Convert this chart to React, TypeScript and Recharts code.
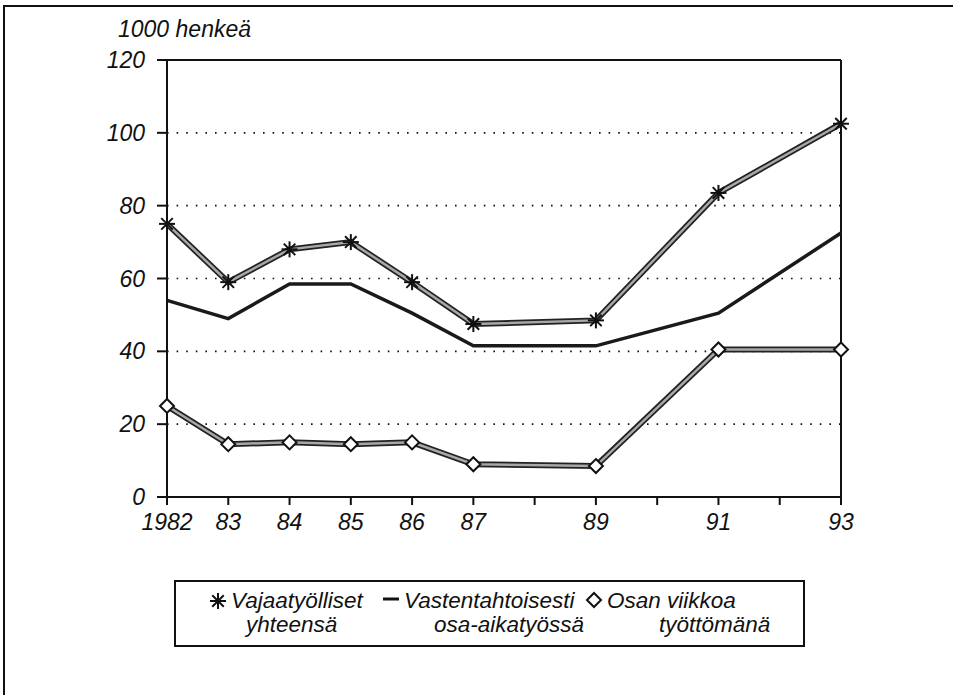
import React from "react";
import { LineChart, Line, XAxis, YAxis, CartesianGrid, ReferenceLine, Legend } from "recharts";

const years = [1982, 1983, 1984, 1985, 1986, 1987, 1989, 1991, 1993];
const vajaatyolliset = [75, 59, 68, 70, 59, 47.5, 48.5, 83.5, 102.5];
const vastentahtoisesti = [54, 49, 58.5, 58.5, 50.5, 41.5, 41.5, 50.5, 72.5];
const osanViikkoa = [25, 14.5, 15, 14.5, 15, 9, 8.5, 40.5, 40.5];

const xTicks = [1982, 1983, 1984, 1985, 1986, 1987, 1988, 1989, 1990, 1991, 1992, 1993];
const xLabels: Record<number, string> = {
  1982: "1982", 1983: "83", 1984: "84", 1985: "85", 1986: "86",
  1987: "87", 1989: "89", 1991: "91", 1993: "93",
};
const yTicks = [0, 20, 40, 60, 80, 100, 120];

const legendItems = [
  { key: "vajaa", first: "Vajaatyölliset", second: "yhteensä", indent: 15 },
  { key: "vasten", first: "Vastentahtoisesti", second: "osa-aikatyössä", indent: 30 },
  { key: "osan", first: "Osan viikkoa", second: "työttömänä", indent: 52 },
];

const data = years.map((year, i) => ({
  year,
  vajaa: vajaatyolliset[i],
  vasten: vastentahtoisesti[i],
  osan: osanViikkoa[i],
}));

const FONT = '"Liberation Sans", Arial, sans-serif';

const StarDot = (props: any) => {
  const { cx, cy } = props;
  if (cx == null || cy == null) return null;
  const r = 8;
  const d = r * 0.72;
  return (
    <g stroke="#111" strokeWidth={2}>
      <line x1={cx - r} y1={cy} x2={cx + r} y2={cy} />
      <line x1={cx} y1={cy - r} x2={cx} y2={cy + r} />
      <line x1={cx - d} y1={cy - d} x2={cx + d} y2={cy + d} />
      <line x1={cx - d} y1={cy + d} x2={cx + d} y2={cy - d} />
    </g>
  );
};

const DiamondDot = (props: any) => {
  const { cx, cy } = props;
  if (cx == null || cy == null) return null;
  const r = 7;
  return (
    <polygon
      points={`${cx},${cy - r} ${cx + r},${cy} ${cx},${cy + r} ${cx - r},${cy}`}
      fill="#fff"
      stroke="#111"
      strokeWidth={2}
    />
  );
};

const LegendIcon = ({ kind }: { kind: string }) => (
  <svg width={22} height={22} style={{ position: "absolute", left: 0, top: 1 }}>
    {kind === "vajaa" && <StarDot cx={11} cy={11} />}
    {kind === "vasten" && <line x1={3} y1={9} x2={19} y2={9} stroke="#111" strokeWidth={3} />}
    {kind === "osan" && <DiamondDot cx={11} cy={10} />}
  </svg>
);

const iconLeft = [31, 204, 407];

const renderLegend = () => (
  <div
    style={{
      position: "relative",
      boxSizing: "border-box",
      width: 631,
      height: 67,
      border: "2px solid #111",
      fontFamily: FONT,
      fontStyle: "italic",
      fontSize: 22.5,
      lineHeight: "24px",
      color: "#111",
    }}
  >
    {legendItems.map((item, i) => (
      <div key={item.key} style={{ position: "absolute", left: iconLeft[i], top: 7, paddingLeft: 24, whiteSpace: "nowrap" }}>
        <LegendIcon kind={item.key} />
        <div>{item.first}</div>
        <div style={{ paddingLeft: item.indent }}>{item.second}</div>
      </div>
    ))}
  </div>
);

const UnitLabel = () => (
  <text x={118} y={37} fontFamily={FONT} fontStyle="italic" fontSize={23} fill="#111">
    1000 henkeä
  </text>
);

export default function App() {
  const tickStyle = { fontFamily: FONT, fontStyle: "italic", fontSize: 23, fill: "#111" };
  return (
    <div style={{ position: "absolute", left: 0, top: 0, width: 953, height: 695, background: "#fff" }}>
      <div
        style={{
          position: "absolute",
          left: 3,
          top: 5,
          width: 950,
          height: 690,
          borderTop: "2px solid #111",
          borderLeft: "2px solid #111",
        }}
      />
      <LineChart width={953} height={695} data={data} margin={{ top: 60, right: 112, bottom: 148, left: 0 }}>
        <CartesianGrid vertical={false} stroke="#111" strokeWidth={1.6} strokeDasharray="1.6 8" />
        <XAxis
          dataKey="year"
          type="number"
          domain={[1982, 1993]}
          ticks={xTicks}
          tickFormatter={(v: number) => xLabels[v] ?? ""}
          interval={0}
          height={50}
          tickSize={8}
          tickMargin={9}
          stroke="#111"
          strokeWidth={2}
          tick={tickStyle}
        />
        <YAxis
          type="number"
          domain={[0, 120]}
          ticks={yTicks}
          width={167}
          tickSize={10}
          tickMargin={12}
          stroke="#111"
          strokeWidth={2}
          tick={tickStyle}
          label={{ content: () => <UnitLabel /> }}
        />
        <ReferenceLine y={120} stroke="#111" strokeWidth={2} />
        <ReferenceLine x={1993} stroke="#111" strokeWidth={2} />
        <Line dataKey="vajaa" stroke="#222" strokeWidth={6} dot={false} isAnimationActive={false} legendType="none" />
        <Line dataKey="vajaa" stroke="#a8a8a8" strokeWidth={2.5} dot={<StarDot />} isAnimationActive={false} />
        <Line dataKey="vasten" stroke="#1a1a1a" strokeWidth={3.5} dot={false} isAnimationActive={false} />
        <Line dataKey="osan" stroke="#222" strokeWidth={6} dot={false} isAnimationActive={false} legendType="none" />
        <Line dataKey="osan" stroke="#a8a8a8" strokeWidth={2.5} dot={<DiamondDot />} isAnimationActive={false} />
        <Legend
          layout="vertical"
          align="center"
          verticalAlign="middle"
          content={renderLegend}
          wrapperStyle={{ left: 174, top: 580, width: 631, height: 67 }}
        />
      </LineChart>
    </div>
  );
}
